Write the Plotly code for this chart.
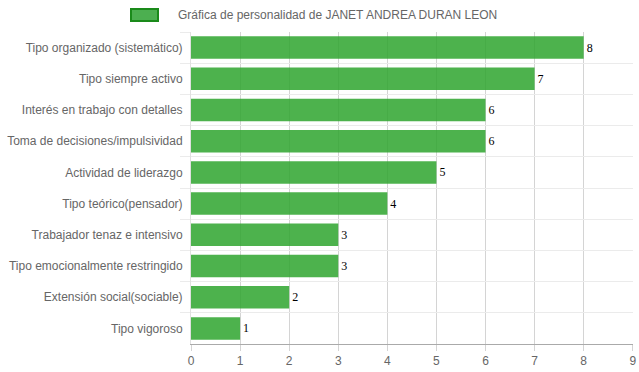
import plotly.graph_objects as go

categories = [
    "Tipo organizado (sistemático)",
    "Tipo siempre activo",
    "Interés en trabajo con detalles",
    "Toma de decisiones/impulsividad",
    "Actividad de liderazgo",
    "Tipo teórico(pensador)",
    "Trabajador tenaz e intensivo",
    "Tipo emocionalmente restringido",
    "Extensión social(sociable)",
    "Tipo vigoroso",
]
values = [8, 7, 6, 6, 5, 4, 3, 3, 2, 1]
series_name = "Gráfica de personalidad de JANET ANDREA DURAN LEON"
x_ticks = list(range(0, 10))

W, H = 639, 372
L, R, T, B = 191, 6, 32, 28
pw, ph = W - L - R, H - T - B

def px_x(p):
    return (p - L) / pw

def px_y(p):
    return (H - B - p) / ph

fig = go.Figure()
fig.add_trace(go.Bar(
    x=values,
    y=categories,
    orientation="h",
    name=series_name,
    marker=dict(color="rgba(46,164,46,0.85)", line=dict(width=0)),
    width=0.72,
    text=[str(v) for v in values],
    textposition="outside",
    textfont=dict(family="Liberation Serif, serif", size=12, color="#000"),
    cliponaxis=False,
    showlegend=False,
))

fig.update_layout(
    width=W, height=H,
    margin=dict(l=L, r=R, t=T, b=B, pad=0, autoexpand=False),
    plot_bgcolor="white",
    paper_bgcolor="white",
    font=dict(family="Liberation Sans, Arial, sans-serif", size=12, color="#666"),
    bargap=0.28,
    xaxis=dict(
        range=[0, 9.005],
        tickmode="array",
        tickvals=x_ticks,
        ticktext=[str(t) for t in x_ticks],
        showgrid=True,
        gridcolor="#d4d4d4",
        gridwidth=1,
        zeroline=False,
        showline=True,
        linecolor="#aaaaaa",
        linewidth=1,
        ticks="outside",
        ticklen=6,
        tickcolor="#d4d4d4",
        tickfont=dict(size=12, color="#666"),
        automargin=False,
    ),
    yaxis=dict(
        categoryorder="array",
        categoryarray=categories,
        autorange="reversed",
        tickson="boundaries",
        showgrid=True,
        gridcolor="#ebebeb",
        ticks="outside",
        ticklen=10,
        tickcolor="#ebebeb",
        ticklabelstandoff=5,
        showline=True,
        linecolor="#e0e0e0",
        tickfont=dict(size=12, color="#666"),
        automargin=False,
    ),
)

# legend (box + text)
fig.add_shape(
    type="rect", xref="paper", yref="paper",
    x0=px_x(131), x1=px_x(158), y0=px_y(21), y1=px_y(9),
    fillcolor="rgba(76,175,80,1)",
    line=dict(color="#1a8a1a", width=2),
)
fig.add_annotation(
    xref="paper", yref="paper",
    x=px_x(176), y=px_y(15),
    xanchor="left", yanchor="middle",
    text=series_name, showarrow=False,
    font=dict(size=12, color="#666"),
)

fig.write_html("out.html", config={"displayModeBar": False})

with open("out.html", "r", encoding="utf-8") as f:
    html = f.read()
html = html.replace("<head>", "<head><style>html,body{margin:0;padding:0;overflow:hidden;}</style>", 1)
with open("out.html", "w", encoding="utf-8") as f:
    f.write(html)
